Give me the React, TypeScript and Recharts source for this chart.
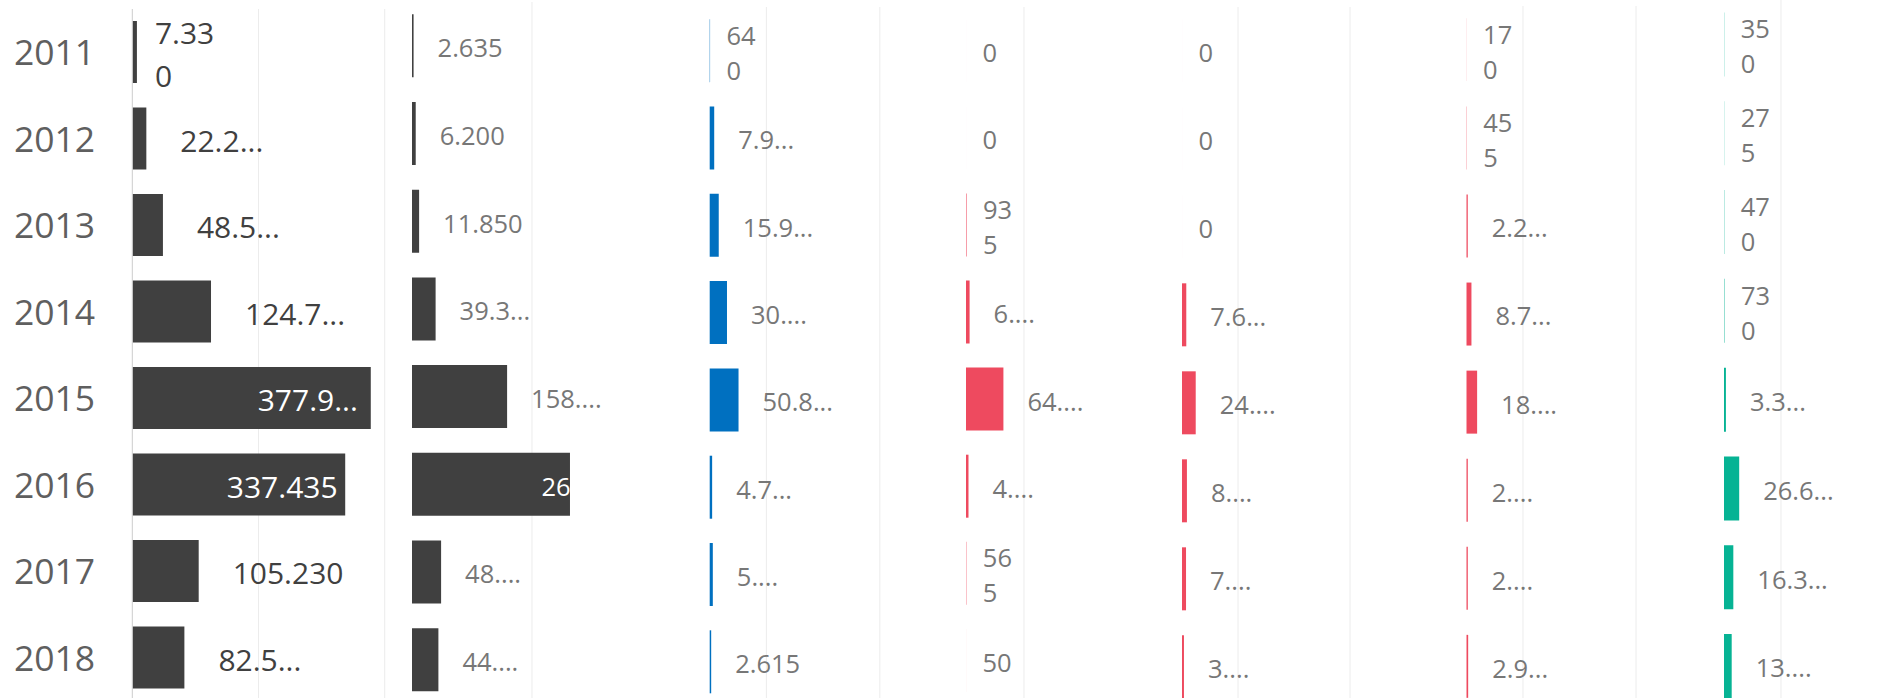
import React from 'react';
import { BarChart, Bar, XAxis, YAxis, CartesianGrid, LabelList } from 'recharts';

const years = ['2011', '2012', '2013', '2014', '2015', '2016', '2017', '2018'];

// one value list + the label text Power BI showed (truncated / wrapped) per panel
const totalValues = [7330, 22250, 48550, 124750, 377950, 337435, 105230, 82550];
const totalLabels = ['7.33\n0', '22.2...', '48.5...', '124.7...', '377.9...', '337.435', '105.230', '82.5...'];

const secondValues = [2635, 6200, 11850, 39350, 158500, 263300, 48500, 44000];
const secondLabels = ['2.635', '6.200', '11.850', '39.3...', '158....', '26', '48....', '44....'];

const blueValues = [640, 7950, 15950, 30500, 50850, 4300, 5500, 2615];
const blueLabels = ['64\n0', '7.9...', '15.9...', '30....', '50.8...', '4.7...', '5....', '2.615'];

const redAValues = [0, 0, 935, 6200, 64500, 4300, 565, 50];
const redALabels = ['0', '0', '93\n5', '6....', '64....', '4....', '56\n5', '50'];

const redBValues = [0, 0, 0, 7650, 24500, 8800, 7200, 3500];
const redBLabels = ['0', '0', '0', '7.6...', '24....', '8....', '7....', '3....'];

const redCValues = [170, 455, 2250, 8750, 18800, 2300, 2300, 2950];
const redCLabels = ['17\n0', '45\n5', '2.2...', '8.7...', '18....', '2....', '2....', '2.9...'];

const tealValues = [350, 275, 470, 730, 3350, 26650, 16350, 13500];
const tealLabels = ['35\n0', '27\n5', '47\n0', '73\n0', '3.3...', '26.6...', '16.3...', '13....'];

const FONT = '"Segoe UI", "Open Sans", sans-serif';
const AXIS_W = 132.3;
const EXTRA = 160; // room on the right of each plot for outside labels
const INSIDE_ROOM = 90;
const YEAR_FS = 35.5;

interface Panel {
  values: number[];
  labels: string[];
  color: string;
  left: number;
  width: number;
  top: number;
  height: number;
  domain: [number, number];
  ticks: number[];
  fs: number;
  labelColor: string;
  gap: number;
  shortGap: number;
  lineGap: number;
  insideCenter: number;
  axis?: boolean;
}

const panels: Panel[] = [
  { values: totalValues, labels: totalLabels, color: '#404040', left: 132.3, width: 252.4, top: 8.95, height: 692,
    domain: [0, 400000], ticks: [200000, 400000], fs: 30, labelColor: '#404040', gap: 34, shortGap: 18, lineGap: 43, insideCenter: 63, axis: true },
  { values: secondValues, labels: secondLabels, color: '#404040', left: 412, width: 240, top: 2.15, height: 701.6,
    domain: [0, 400000], ticks: [200000], fs: 25.5, labelColor: '#777777', gap: 24, shortGap: 17, lineGap: 35, insideCenter: 14 },
  { values: blueValues, labels: blueLabels, color: '#0070C0', left: 653.3, width: 226.8, top: 6.65, height: 698.4,
    domain: [-100000, 300000], ticks: [-100000, 100000, 300000], fs: 25.5, labelColor: '#777777', gap: 24, shortGap: 16.5, lineGap: 35, insideCenter: 14 },
  { values: redAValues, labels: redALabels, color: '#EE4A5F', left: 907.5, width: 232, top: 7.25, height: 696.8,
    domain: [-100000, 300000], ticks: [-100000, 100000], fs: 25.5, labelColor: '#777777', gap: 24, shortGap: 16.5, lineGap: 35, insideCenter: 14 },
  { values: redBValues, labels: redBLabels, color: '#EE4A5F', left: 1125.5, width: 224, top: 6.7, height: 704,
    domain: [-100000, 300000], ticks: [-100000, 100000, 300000], fs: 25.5, labelColor: '#777777', gap: 24, shortGap: 16.5, lineGap: 35, insideCenter: 14 },
  { values: redCValues, labels: redCLabels, color: '#EE4A5F', left: 1410.2, width: 226, top: 6.26, height: 704.6,
    domain: [-100000, 300000], ticks: [-100000, 100000, 300000], fs: 25.5, labelColor: '#777777', gap: 24, shortGap: 16.5, lineGap: 35, insideCenter: 14 },
  { values: tealValues, labels: tealLabels, color: '#06B394', left: 1667.3, width: 228, top: -0.2, height: 710.4,
    domain: [-100000, 300000], ticks: [-100000, 100000, 300000], fs: 25.5, labelColor: '#777777', gap: 24, shortGap: 16.5, lineGap: 35, insideCenter: 14 },
];

const makeLabel = (p: Panel) => (props: any) => {
  const x = Number(props.x), y = Number(props.y), w = Number(props.width), h = Number(props.height);
  const text = String(props.value ?? '');
  const end = x + w;
  const cy = y + h / 2 + 2.5;
  const plotRight = (p.axis ? AXIS_W : 0) + p.width;
  const base = 0.35 * p.fs;
  if (end + INSIDE_ROOM > plotRight) {
    return (
      <text x={end - p.insideCenter} y={cy + base} textAnchor="middle" fill="#ffffff" fontSize={p.fs} fontFamily={FONT}>
        {text}
      </text>
    );
  }
  const lines = text.split('\n');
  const short = lines.length > 1 || text.length <= 3;
  const lx = end + (short ? p.shortGap : p.gap);
  if (lines.length === 1) {
    return (
      <text x={lx} y={cy + base} fill={p.labelColor} fontSize={p.fs} fontFamily={FONT}>
        {text}
      </text>
    );
  }
  return (
    <text fill={p.labelColor} fontSize={p.fs} fontFamily={FONT}>
      {lines.map((l, i) => (
        <tspan key={i} x={lx} y={cy + (i - (lines.length - 1) / 2) * p.lineGap + base}>{l}</tspan>
      ))}
    </text>
  );
};

const YearTick = (props: any) => (
  <text x={14} y={Number(props.y) + 0.36 * YEAR_FS} fill="#5f5f5f" fontSize={YEAR_FS} fontFamily={FONT}>
    {props.payload.value}
  </text>
);

const PanelChart: React.FC<{ p: Panel }> = ({ p }) => {
  const rows = years.map((year, i) => ({ year, value: p.values[i], label: p.labels[i] }));
  const offset = p.axis ? AXIS_W : 0;
  return (
    <div style={{ position: 'absolute', left: p.left - offset, top: p.top }}>
      <BarChart
        layout="vertical"
        width={offset + p.width + EXTRA}
        height={p.height}
        data={rows}
        margin={{ top: 0, right: EXTRA, bottom: 0, left: 0 }}
        barCategoryGap="14%"
      >
        <CartesianGrid horizontal={false} vertical verticalValues={p.ticks} stroke="#ececec" />
        <XAxis type="number" domain={p.domain} ticks={p.ticks} hide allowDataOverflow />
        {p.axis ? (
          <YAxis type="category" dataKey="year" width={AXIS_W} axisLine={{ stroke: '#cccccc' }} tickLine={false} tick={YearTick} />
        ) : (
          <YAxis type="category" dataKey="year" hide />
        )}
        <Bar dataKey="value" fill={p.color} minPointSize={0.01} isAnimationActive={false}>
          <LabelList dataKey="label" content={makeLabel(p)} />
        </Bar>
      </BarChart>
    </div>
  );
};

export default function App() {
  return (
    <div style={{ position: 'absolute', left: 0, top: 0, width: 1886, height: 698, overflow: 'hidden', background: '#ffffff' }}>
      {panels.map((p, i) => (
        <PanelChart key={i} p={p} />
      ))}
    </div>
  );
}
